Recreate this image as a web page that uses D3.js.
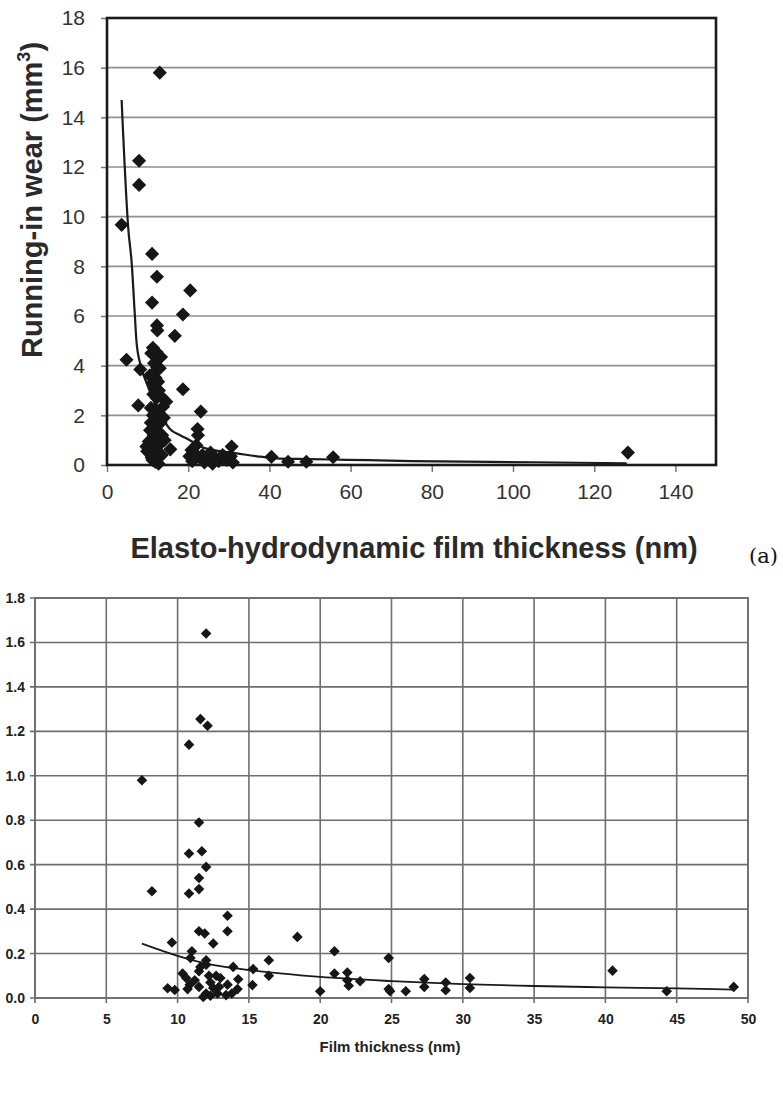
<!DOCTYPE html>
<html>
<head>
<meta charset="utf-8">
<script src="https://cdn.jsdelivr.net/npm/d3@7"></script>
<style>
  html, body { margin: 0; padding: 0; background: #fff; }
  svg { display: block; }
</style>
</head>
<body>
<svg id="chart" width="783" height="1100"></svg>
<script>
// ---------- Chart (a) top: running-in wear vs EHD film thickness ----------
const topX = [13.0,7.9,7.9,3.6,11.1,12.3,11.1,20.5,18.7,12.3,12.4,16.7,4.8,8.2,18.7,7.7,23.1,22.3,15.6,9.7,
  11.3,10.9,12.2,13.3,11.6,12.3,11.4,12.0,11.2,12.6,11.8,12.8,11.4,12.2,13.4,14.6,10.8,11.9,12.7,13.8,11.3,12.4,13.2,11.9,12.6,11.5,12.3,10.3,11.0,12.8,9.9,11.6,12.4,11.2,11.9,12.7,10.6,13.6,
  10.5,13.0,14.0,11.0,12.0,13.5,10.8,14.2,
  20.8,20.3,21.0,21.6,22.0,22.4,23.5,24.5,25.5,26.5,27.5,28.5,29.5,30.7,30.5,31.0,26.0,24.0,22.0,
  40.5,44.6,49.1,55.7,128.3];
const topY = [15.8,12.25,11.28,9.67,8.5,7.58,6.54,7.03,6.06,5.62,5.42,5.2,4.24,3.85,3.05,2.4,2.15,1.45,0.63,0.74,
  4.72,4.5,4.55,4.35,4.1,3.95,3.7,3.5,3.3,3.35,3.1,3.0,2.85,2.7,2.75,2.55,2.3,2.25,2.1,2.35,2.0,1.85,1.7,1.55,1.35,1.2,1.05,0.95,0.85,0.8,0.55,0.45,0.35,0.2,0.12,0.05,1.4,1.2,
  3.6,3.9,1.9,0.3,0.6,0.4,1.7,1.0,
  0.6,0.35,0.15,0.47,0.8,1.2,0.4,0.25,0.5,0.3,0.15,0.4,0.2,0.74,0.35,0.1,0.05,0.1,0.3,
  0.33,0.13,0.13,0.31,0.5];
const topTrendX = [3.6,5.25,6.1,6.8,7.3,8.5,10,12,14,15.5,18,20.4,23.7,27,31.9,37,42.6,50,59,75,105,128];
const topTrendY = [14.7,9.5,8.1,6.2,4.9,3.9,3.2,2.4,1.8,1.45,1.2,1.0,0.7,0.58,0.47,0.35,0.26,0.24,0.21,0.16,0.11,0.07];
const topXTicks = [0,20,40,60,80,100,120,140];
const topYTicks = [0,2,4,6,8,10,12,14,16,18];

// ---------- Chart bottom: wear vs film thickness ----------
const botX = [12.0,11.6,12.1,10.8,7.5,11.5,10.8,11.7,12.0,11.5,8.2,10.8,11.5,13.5,11.5,11.9,13.5,12.5,9.6,11.0,10.9,12.0,12.0,11.5,
  9.3,9.8,10.35,10.6,10.85,10.7,11.2,11.5,12.2,12.3,12.5,12.0,12.3,11.8,12.8,13.0,12.9,13.9,13.5,13.4,13.8,14.25,14.2,15.3,15.25,16.4,16.4,
  18.4,20.0,21.0,21.0,21.9,21.9,22.0,22.8,24.8,24.8,24.9,26.0,27.3,27.3,28.8,28.8,30.5,30.5,40.5,44.3,49.0,11.6,12.7];
const botY = [1.64,1.255,1.225,1.14,0.98,0.79,0.65,0.66,0.59,0.54,0.48,0.47,0.49,0.37,0.30,0.29,0.30,0.245,0.25,0.21,0.18,0.17,0.15,0.12,
  0.044,0.036,0.11,0.09,0.06,0.04,0.08,0.05,0.1,0.07,0.045,0.02,0.01,0.005,0.02,0.09,0.05,0.14,0.06,0.013,0.02,0.084,0.04,0.13,0.058,0.17,0.10,
  0.275,0.03,0.21,0.11,0.115,0.08,0.055,0.075,0.18,0.04,0.03,0.03,0.085,0.05,0.07,0.035,0.09,0.045,0.123,0.03,0.05,0.14,0.1];
const botTrendX = [7.5,10,12,15,20,25,30,35,40,45,49];
const botTrendY = [0.245,0.19,0.155,0.126,0.095,0.076,0.062,0.054,0.048,0.043,0.038];
const botXTicks = [0,5,10,15,20,25,30,35,40,45,50];
const botYTicks = [0,0.2,0.4,0.6,0.8,1.0,1.2,1.4,1.6,1.8];

const svg = d3.select("#chart");
const SANS = "Liberation Sans, Arial, sans-serif";

// ===== TOP CHART =====
const T = {left:107, right:716, top:18, bottom:465};
const tx = d3.scaleLinear().domain([0,150]).range([T.left, T.right]);
const ty = d3.scaleLinear().domain([0,18]).range([T.bottom, T.top]);
const gTop = svg.append("g");

gTop.append("g").selectAll("line").data(topYTicks).join("line")
  .attr("x1", T.left).attr("x2", T.right)
  .attr("y1", d => ty(d)).attr("y2", d => ty(d))
  .attr("stroke", "#8f8f8f").attr("stroke-width", 1.6);

const tAxX = d3.axisBottom(tx).tickValues(topXTicks).tickSize(7).tickPadding(12).tickFormat(d3.format("d"));
const tAxY = d3.axisLeft(ty).tickValues(topYTicks).tickSize(6).tickPadding(16).tickFormat(d3.format("d"));
const gx = gTop.append("g").attr("transform", `translate(0,${T.bottom})`).call(tAxX);
const gy = gTop.append("g").attr("transform", `translate(${T.left},0)`).call(tAxY);
[gx, gy].forEach(g => {
  g.select(".domain").remove();
  g.selectAll(".tick line").attr("stroke", "#777").attr("stroke-width", 1.5);
  g.selectAll("text").attr("fill", "#333").style("font-family", SANS).style("font-size", "21px");
});

gTop.append("rect").attr("x", T.left).attr("y", T.top)
  .attr("width", T.right - T.left).attr("height", T.bottom - T.top)
  .attr("fill", "none").attr("stroke", "#1a1a1a").attr("stroke-width", 2.6);

const topTrend = topTrendX.map((x, i) => [x, topTrendY[i]]);
gTop.append("path").datum(topTrend)
  .attr("d", d3.line().x(d => tx(d[0])).y(d => ty(d[1])).curve(d3.curveMonotoneX))
  .attr("fill", "none").attr("stroke", "#1a1a1a").attr("stroke-width", 2.2);

const topPts = topX.map((x, i) => [x, topY[i]]);
const diamondTop = d3.symbol().type(d3.symbolSquare).size(100);
gTop.append("g").selectAll("path").data(topPts).join("path")
  .attr("d", diamondTop)
  .attr("transform", d => `translate(${tx(d[0])},${ty(d[1])}) rotate(45)`)
  .attr("fill", "#161616");

gTop.append("text")
  .attr("transform", `translate(42,200) rotate(-90)`)
  .attr("text-anchor", "middle")
  .style("font-family", SANS).style("font-weight", "bold").style("font-size", "29px")
  .attr("fill", "#2a2a2a")
  .call(t => {
    t.append("tspan").text("Running-in wear (mm");
    t.append("tspan").text("3").attr("dy", -12).style("font-size", "18px");
    t.append("tspan").text(")").attr("dy", 12);
  });

gTop.append("text")
  .attr("x", 414).attr("y", 558).attr("text-anchor", "middle")
  .style("font-family", SANS).style("font-weight", "bold").style("font-size", "29px")
  .attr("fill", "#2a2a2a")
  .text("Elasto-hydrodynamic film thickness (nm)");

svg.append("text").attr("x", 749).attr("y", 563)
  .style("font-family", "DejaVu Serif, Liberation Serif, serif").style("font-size", "21px")
  .attr("fill", "#111").text("(a)");

// ===== BOTTOM CHART =====
const B = {left:35, right:748, top:598, bottom:998};
const bx = d3.scaleLinear().domain([0,50]).range([B.left, B.right]);
const by = d3.scaleLinear().domain([0,1.8]).range([B.bottom, B.top]);
const gBot = svg.append("g");

gBot.append("g").selectAll("line").data(botYTicks).join("line")
  .attr("x1", B.left - 5).attr("x2", B.right)
  .attr("y1", d => by(d)).attr("y2", d => by(d))
  .attr("stroke", "#6e6e6e").attr("stroke-width", 1.6);
gBot.append("g").selectAll("line").data(botXTicks).join("line")
  .attr("x1", d => bx(d)).attr("x2", d => bx(d))
  .attr("y1", B.top).attr("y2", B.bottom + 5)
  .attr("stroke", "#6e6e6e").attr("stroke-width", 1.6);

const bAxX = d3.axisBottom(bx).tickValues(botXTicks).tickSize(0).tickPadding(16).tickFormat(d3.format("d"));
const bAxY = d3.axisLeft(by).tickValues(botYTicks).tickSize(0).tickPadding(10).tickFormat(d3.format(".1f"));
const bgx = gBot.append("g").attr("transform", `translate(0,${B.bottom})`).call(bAxX);
const bgy = gBot.append("g").attr("transform", `translate(${B.left},0)`).call(bAxY);
[bgx, bgy].forEach(g => {
  g.select(".domain").remove();
  g.selectAll("text").attr("fill", "#222").style("font-family", SANS)
    .style("font-weight", "bold").style("font-size", "14px");
});

gBot.append("rect").attr("x", B.left).attr("y", B.top)
  .attr("width", B.right - B.left).attr("height", B.bottom - B.top)
  .attr("fill", "none").attr("stroke", "#6e6e6e").attr("stroke-width", 1.8);

const botTrend = botTrendX.map((x, i) => [x, botTrendY[i]]);
gBot.append("path").datum(botTrend)
  .attr("d", d3.line().x(d => bx(d[0])).y(d => by(d[1])).curve(d3.curveMonotoneX))
  .attr("fill", "none").attr("stroke", "#1a1a1a").attr("stroke-width", 1.8);

const botPts = botX.map((x, i) => [x, botY[i]]);
const diamondBot = d3.symbol().type(d3.symbolSquare).size(56);
gBot.append("g").selectAll("path").data(botPts).join("path")
  .attr("d", diamondBot)
  .attr("transform", d => `translate(${bx(d[0])},${by(d[1])}) rotate(45)`)
  .attr("fill", "#161616");

gBot.append("text")
  .attr("x", 390).attr("y", 1052).attr("text-anchor", "middle")
  .style("font-family", SANS).style("font-weight", "bold").style("font-size", "15px")
  .attr("fill", "#222")
  .text("Film thickness (nm)");
</script>
</body>
</html>
